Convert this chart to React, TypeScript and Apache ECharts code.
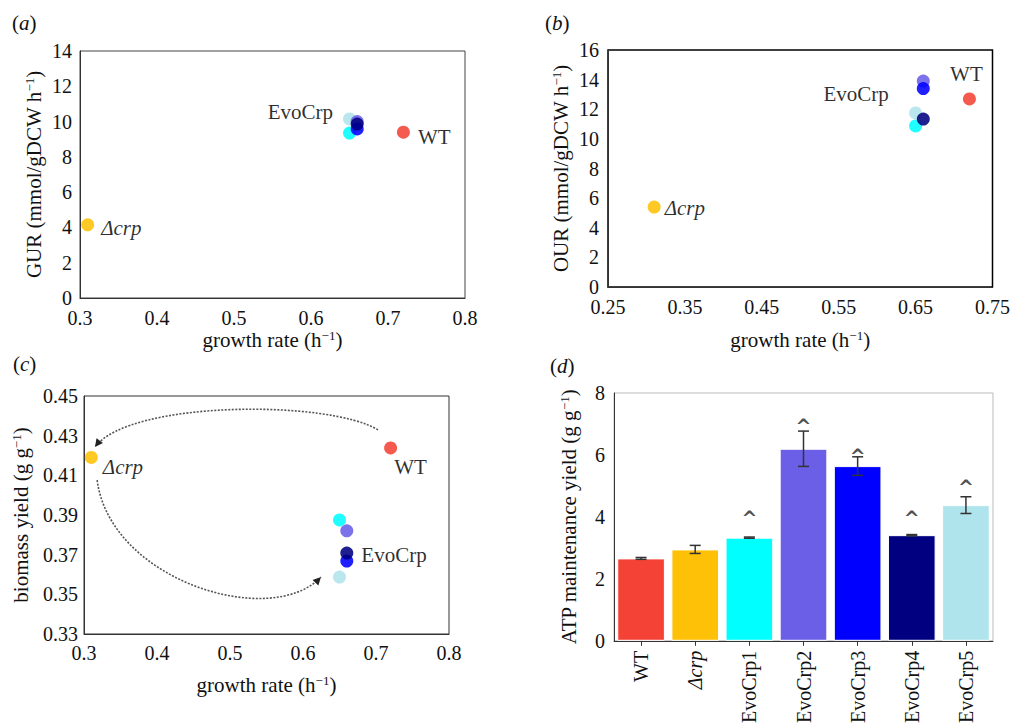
import React, { useEffect, useRef } from "react";
import * as echarts from "echarts";

// ---- data ----
const strains = ["WT", "Δcrp", "EvoCrp1", "EvoCrp2", "EvoCrp3", "EvoCrp4", "EvoCrp5"];
const strainColors = ["#f44336", "#ffc107", "#00ffff", "#6a5fe6", "#0000ff", "#000080", "#b0e4ec"];
const growthRate = [0.72, 0.31, 0.65, 0.66, 0.66, 0.66, 0.65];
const gur = [9.4, 4.15, 9.35, 10.0, 9.58, 9.86, 10.15];
const our = [12.7, 5.4, 10.87, 13.9, 13.4, 11.34, 11.75];
const biomassYield = [0.4238, 0.419, 0.3875, 0.382, 0.3668, 0.3708, 0.3587];
const atpYield = [2.66, 2.95, 3.33, 6.2, 5.64, 3.41, 4.38];
const atpError = [0.03, 0.13, 0.02, 0.57, 0.3, 0.02, 0.27];
const caretLevel = [null, null, 3.95, 6.92, 5.95, 3.95, 4.95];
const drawOrder = [0, 1, 6, 2, 3, 4, 5];

// annotation arrows for panel (c), in data coordinates (start, control1, control2, end)
const arrowCurves = [
  [[0.7027, 0.4329], [0.637, 0.448], [0.363, 0.448], [0.315, 0.4243]],
  [[0.318, 0.4076], [0.3356, 0.3572], [0.5548, 0.332], [0.6247, 0.3587]],
];

const FONT = '"Liberation Serif", "DejaVu Serif", serif';
const TXT = "#111";

const supRich = {
  sup: { fontSize: 13, verticalAlign: "top", fontFamily: FONT, color: TXT, padding: [0, 0, 8, 0] },
  n: { fontSize: 21, fontFamily: FONT, color: TXT },
};

function labelFor(i: number, cfg: Record<number, any>) {
  const c = cfg[i];
  if (!c) return { show: false };
  const text = i === 0 ? "WT" : i === 1 ? "Δcrp" : "EvoCrp";
  return {
    show: true,
    formatter: text,
    fontFamily: FONT,
    fontSize: 21,
    color: TXT,
    fontStyle: i === 1 ? "italic" : "normal",
    ...c,
  };
}

function scatterSeries(idx: number, ys: number[], cfg: Record<number, any>) {
  return {
    type: "scatter",
    xAxisIndex: idx,
    yAxisIndex: idx,
    symbolSize: 13,
    data: drawOrder.map((i) => ({
      value: [growthRate[i], ys[i]],
      itemStyle: { color: strainColors[i], opacity: 0.88 },
      label: labelFor(i, cfg),
    })),
  };
}

function valueX(idx: number, min: number, max: number, interval: number, digits: number, gap: number, margin: number) {
  return {
    type: "value",
    gridIndex: idx,
    min,
    max,
    interval,
    axisLine: { show: true, lineStyle: { color: "#333" } },
    axisTick: { show: false },
    splitLine: { show: false },
    axisLabel: {
      formatter: (v: number) => v.toFixed(digits),
      fontFamily: FONT,
      fontSize: 20,
      lineHeight: 16,
      color: TXT,
      margin,
    },
    name: "{n|growth rate (h}{sup|−1}{n|)}",
    nameLocation: "middle",
    nameGap: gap,
    nameTextStyle: { rich: supRich },
  };
}

function valueY(idx: number, min: number, max: number, interval: number, digits: number, name: string, gap: number, margin: number) {
  return {
    type: "value",
    gridIndex: idx,
    min,
    max,
    interval,
    axisLine: { show: true, lineStyle: { color: "#333" } },
    axisTick: { show: false },
    splitLine: { show: false },
    axisLabel: {
      formatter: (v: number) => v.toFixed(digits),
      fontFamily: FONT,
      fontSize: 20,
      lineHeight: 16,
      color: TXT,
      margin,
    },
    name,
    nameLocation: "middle",
    nameRotate: 90,
    nameGap: gap,
    nameTextStyle: { rich: supRich },
  };
}

export default function App() {
  const ref = useRef<HTMLDivElement>(null);
  useEffect(() => {
    if (!ref.current) return;
    const chart = echarts.init(ref.current, null, { renderer: "svg" });
    const option: any = {
      animation: false,
      backgroundColor: "#fff",
      textStyle: { fontFamily: FONT },
      grid: [
        { left: 80, top: 51, width: 385, height: 247, show: true, borderColor: "#444", borderWidth: 1 },
        { left: 608, top: 50, width: 389, height: 237, show: true, borderColor: "#000", borderWidth: 1.5 },
        { left: 84, top: 396, width: 365, height: 238, show: true, borderColor: "#333", borderWidth: 1 },
        { left: 614, top: 393, width: 379, height: 249, show: true, borderColor: "#bbb", borderWidth: 1 },
      ],
      xAxis: [
        valueX(0, 0.3, 0.8, 0.1, 1, 31, 12),
        valueX(1, 0.25, 0.75, 0.1, 2, 42, 12),
        valueX(2, 0.3, 0.8, 0.1, 1, 40, 11),
        {
          type: "category",
          gridIndex: 3,
          data: strains,
          axisLine: { show: true, lineStyle: { color: "#333" } },
          axisTick: { show: true, alignWithLabel: true, length: 5, lineStyle: { color: "#333" } },
          axisLabel: {
            rotate: 90,
            margin: 10,
            fontFamily: FONT,
            fontSize: 20,
            color: TXT,
            formatter: (v: string) => (v === "Δcrp" ? "{i|Δcrp}" : "{r|" + v + "}"),
            rich: {
              i: { fontStyle: "italic", fontFamily: FONT, fontSize: 20, color: TXT },
              r: { fontFamily: FONT, fontSize: 20, color: TXT },
            },
          },
        },
      ],
      yAxis: [
        valueY(0, 0, 14, 2, 0, "{n|GUR (mmol/gDCW h}{sup|−1}{n|)}", 36, 8),
        valueY(1, 0, 16, 2, 0, "{n|OUR (mmol/gDCW h}{sup|−1}{n|)}", 37, 9),
        valueY(2, 0.33, 0.45, 0.02, 2, "{n|biomass yield (g g}{sup|−1}{n|)}", 53, 6),
        valueY(3, 0, 8, 2, 0, "{n|ATP maintenance yield (g g}{sup|−1}{n|)}", 35, 9),
      ],
      series: [
        scatterSeries(0, gur, {
          0: { position: "right", distance: 8, offset: [0, 5] },
          1: { position: "right", distance: 7, offset: [0, 3] },
          6: { position: "left", distance: 10, offset: [0, -7] },
        }),
        scatterSeries(1, our, {
          0: { position: "top", distance: 8, offset: [-3, 0] },
          1: { position: "right", distance: 4, offset: [0, 1] },
          4: { position: "left", distance: 28, offset: [0, 5] },
        }),
        scatterSeries(2, biomassYield, {
          0: { position: "bottom", distance: 2, offset: [20, 0] },
          1: { position: "right", distance: 5, offset: [0, 10] },
          5: { position: "right", distance: 8, offset: [0, 2] },
        }),
        {
          type: "bar",
          xAxisIndex: 3,
          yAxisIndex: 3,
          barCategoryGap: "12%",
          data: atpYield.map((v, i) => ({
            value: v,
            itemStyle: { color: strainColors[i], borderColor: "#fff", borderWidth: 1 },
          })),
        },
        {
          type: "custom",
          xAxisIndex: 3,
          yAxisIndex: 3,
          z: 10,
          data: atpYield.map((v, i) => [i, v, atpError[i]]),
          encode: { x: 0, y: 1 },
          renderItem: (params: any, api: any) => {
            const i = api.value(0);
            const v = api.value(1);
            const e = api.value(2);
            const top = api.coord([i, v + e]);
            const bot = api.coord([i, v - e]);
            const w = 11;
            const st = { stroke: "#333", lineWidth: 1.5 };
            return {
              type: "group",
              children: [
                { type: "line", shape: { x1: top[0], y1: top[1], x2: bot[0], y2: bot[1] }, style: st },
                { type: "line", shape: { x1: top[0] - w / 2, y1: top[1], x2: top[0] + w / 2, y2: top[1] }, style: st },
                { type: "line", shape: { x1: bot[0] - w / 2, y1: bot[1], x2: bot[0] + w / 2, y2: bot[1] }, style: st },
              ],
            };
          },
        },
        {
          type: "scatter",
          xAxisIndex: 3,
          yAxisIndex: 3,
          symbolSize: 1,
          itemStyle: { color: "rgba(0,0,0,0)" },
          z: 11,
          data: caretLevel
            .map((c, i) => (c === null ? null : [strains[i], c]))
            .filter((d) => d !== null),
          label: {
            show: true,
            position: "inside",
            formatter: "^",
            fontFamily: '"DejaVu Sans", sans-serif',
            fontWeight: "bold",
            fontSize: 19,
            color: "#222",
          },
        },
      ],
    };
    chart.setOption(option);

    const graphics: any[] = [];
    const panelLabels = [
      { t: "a", x: 12, y: 12 },
      { t: "b", x: 545, y: 12 },
      { t: "c", x: 13, y: 353 },
      { t: "d", x: 550, y: 355 },
    ];
    panelLabels.forEach((p) =>
      graphics.push({
        type: "text",
        left: p.x,
        top: p.y,
        style: {
          text: "({i|" + p.t + "})",
          fontFamily: FONT,
          fontSize: 21,
          fill: TXT,
          rich: { i: { fontStyle: "italic", fontFamily: FONT, fontSize: 21, fill: TXT, color: TXT } },
        },
      })
    );
    arrowCurves.forEach((c) => {
      const p = c.map((pt) => chart.convertToPixel({ gridIndex: 2 } as any, pt) as number[]);
      graphics.push({
        type: "bezierCurve",
        shape: {
          x1: p[0][0], y1: p[0][1],
          cpx1: p[1][0], cpy1: p[1][1],
          cpx2: p[2][0], cpy2: p[2][1],
          x2: p[3][0], y2: p[3][1],
        },
        style: { stroke: "#555", lineWidth: 1.6, lineDash: [2, 1.5], fill: null },
      });
      const dx = p[3][0] - p[2][0];
      const dy = p[3][1] - p[2][1];
      const len = Math.sqrt(dx * dx + dy * dy);
      const ux = dx / len, uy = dy / len;
      const bx = p[3][0] - ux * 8, by = p[3][1] - uy * 8;
      graphics.push({
        type: "polygon",
        shape: {
          points: [
            [p[3][0], p[3][1]],
            [bx - uy * 4, by + ux * 4],
            [bx + uy * 4, by - ux * 4],
          ],
        },
        style: { fill: "#222" },
      });
    });
    chart.setOption({ graphic: graphics });
    return () => chart.dispose();
  }, []);
  return (
    <div
      ref={ref}
      style={{ position: "absolute", left: 0, top: 0, width: 1013, height: 726, background: "#fff" }}
    />
  );
}
